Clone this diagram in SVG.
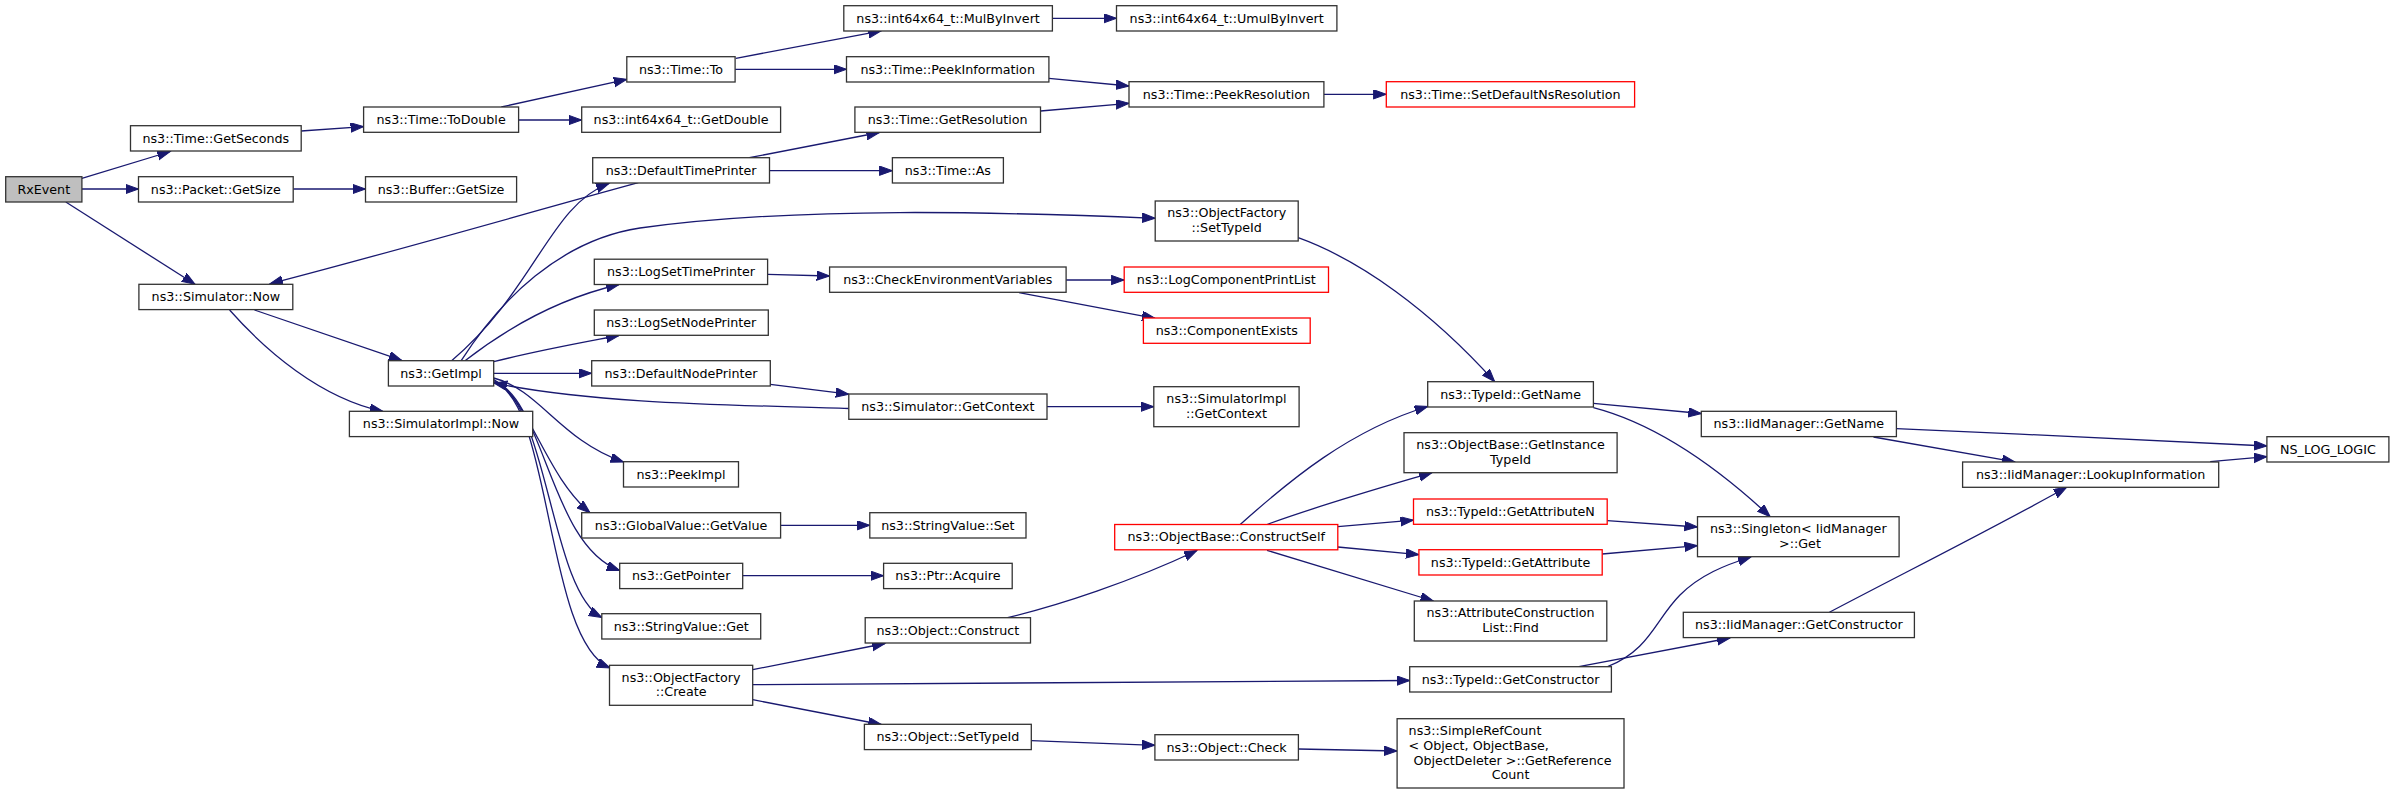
<svg xmlns="http://www.w3.org/2000/svg" width="2395" height="793" viewBox="0 0 2395 793">
<style>
.n rect{fill:#fff;stroke:#333;stroke-width:1.3}
.n.r rect{stroke:#ff0000}
.n.g rect{fill:#bfbfbf}
text{font-family:"DejaVu Sans","Liberation Sans",sans-serif;font-size:12.7px;fill:#000;text-anchor:middle}
text.l{text-anchor:start}
#edges path{fill:none;stroke:#191970;stroke-width:1.3;marker-end:url(#a)}
</style>
<defs>
<marker id="a" markerUnits="userSpaceOnUse" markerWidth="15" markerHeight="11" refX="13" refY="4.7" orient="auto"><path d="M0,0 L13,4.7 L0,9.4 z" fill="#191970" stroke="#191970" stroke-width="1"/></marker>
</defs>
<rect width="2395" height="793" fill="#fff"/>
<g id="edges">
<path d="M81.9,178.3 L170.3,151.5"/>
<path d="M81.9,189 L138.5,189"/>
<path d="M65.8,202 L195,284.3"/>
<path d="M301.2,131 L363.6,126.6"/>
<path d="M293.2,189 L365.5,189"/>
<path d="M501.3,107 L626.8,79.3"/>
<path d="M518.6,120 L581.7,120"/>
<path d="M735.9,58.3 L881.3,30.8"/>
<path d="M735.1,69.3 L846.5,69.3"/>
<path d="M1052.4,18.3 L1116.5,18.3"/>
<path d="M1048.9,78.3 L1129,86"/>
<path d="M1040.5,111 L1129,103.3"/>
<path d="M1323.9,94.3 L1386.3,94.3"/>
<path d="M638.3,182.7 C520,215 400,250 269.8,283.8"/>
<path d="M749.3,157.7 L879.4,132.5"/>
<path d="M769.5,170.7 L892.4,170.7"/>
<path d="M254.5,310 L401.8,360.4"/>
<path d="M229.6,310 C265,350 320,398 382.7,411.3"/>
<path d="M451.6,360.7 C535,290 550,205 609,183.5"/>
<path d="M461.2,360.7 C500,300 560,240 640,228 C800,206 1000,212 1155.2,218.3"/>
<path d="M465,360.7 C520,318 570,296 619,284.5"/>
<path d="M493.7,361.7 C540,350 580,343 619,335.5"/>
<path d="M493.7,373.3 L591.7,373.3"/>
<path d="M848.8,408.5 C750,405 600,405 494,383"/>
<path d="M493.7,378 C540,390 560,440 623.5,462"/>
<path d="M493.7,379.5 C530,400 545,475 590,512.7"/>
<path d="M493.7,380.5 C545,400 550,545 619.7,570.5"/>
<path d="M493.7,381.5 C548,400 550,590 601.8,617.5"/>
<path d="M493.7,382.5 C552,400 545,640 610,668"/>
<path d="M767.6,274.3 L829.6,276"/>
<path d="M1066.1,280 L1124.2,280"/>
<path d="M1019,292.7 L1155,318.3"/>
<path d="M770.3,384.3 L848.8,394.2"/>
<path d="M1047,406.7 L1153.8,406.7"/>
<path d="M1298.2,237.7 C1360,260 1430,310 1494.7,381.7"/>
<path d="M780.6,525.3 L869.8,525.3"/>
<path d="M742.7,575.7 L883.6,575.7"/>
<path d="M752.7,669.7 L885,643.5"/>
<path d="M752.7,684.7 L1409.7,680.5"/>
<path d="M752.7,699.7 L881.3,724.5"/>
<path d="M1007.6,617.7 C1060,605 1130,582 1197,550.5"/>
<path d="M1031.3,740.7 L1154.9,745.3"/>
<path d="M1298.4,749 L1397.1,751"/>
<path d="M1240.2,524.5 C1290,480 1350,430 1427.7,406.5"/>
<path d="M1267,524.5 C1320,505 1380,488 1432,472.7"/>
<path d="M1337.8,526.7 L1413.5,520.2"/>
<path d="M1337.8,547 L1418.9,554.7"/>
<path d="M1267,550.3 L1433.4,601"/>
<path d="M1593.4,403.3 L1701.3,413.5"/>
<path d="M1593.4,407.7 C1660,425 1720,470 1770.2,516.7"/>
<path d="M1607.2,520.7 L1697.5,527"/>
<path d="M1602.2,554 L1697.5,545.7"/>
<path d="M1607.6,666.7 C1650,650 1655,620 1680,595 C1700,575 1725,565 1751,557"/>
<path d="M1578.9,666.7 L1730,638"/>
<path d="M1896.4,428.7 C2020,434 2150,440 2266.9,446"/>
<path d="M1873.5,437 L2015,461.9"/>
<path d="M2210.2,461.7 L2266.9,456.7"/>
<path d="M1829.4,612.3 C1900,575 1990,530 2066.7,487.3"/>
</g>
<g id="n_RxEvent" class="n g"><rect x="5.7" y="176.7" width="76.2" height="25.3"/><text x="43.8" y="193.6">RxEvent</text></g>
<g id="n_GetSeconds" class="n"><rect x="130.5" y="125.7" width="170.7" height="25.3"/><text x="215.85" y="142.6">ns3::Time::GetSeconds</text></g>
<g id="n_PacketGetSize" class="n"><rect x="138.5" y="176.7" width="154.7" height="25.3"/><text x="215.85" y="193.6">ns3::Packet::GetSize</text></g>
<g id="n_SimulatorNow" class="n"><rect x="138.9" y="284.3" width="153.9" height="25.3"/><text x="215.85" y="301.2">ns3::Simulator::Now</text></g>
<g id="n_ToDouble" class="n"><rect x="363.6" y="107" width="155" height="25.3"/><text x="441.1" y="123.9">ns3::Time::ToDouble</text></g>
<g id="n_BufferGetSize" class="n"><rect x="365.5" y="176.7" width="151.1" height="25.3"/><text x="441.05" y="193.6">ns3::Buffer::GetSize</text></g>
<g id="n_GetImpl" class="n"><rect x="388.4" y="360.7" width="105.3" height="25.3"/><text x="441.05" y="377.6">ns3::GetImpl</text></g>
<g id="n_SimulatorImplNow" class="n"><rect x="349.4" y="411.3" width="183.3" height="25.3"/><text x="441.05" y="428.2">ns3::SimulatorImpl::Now</text></g>
<g id="n_GetDouble" class="n"><rect x="581.7" y="107" width="198.9" height="25.3"/><text x="681.15" y="123.9">ns3::int64x64_t::GetDouble</text></g>
<g id="n_TimeTo" class="n"><rect x="626.8" y="56.7" width="108.3" height="25.3"/><text x="681" y="73.6">ns3::Time::To</text></g>
<g id="n_DefaultTimePrinter" class="n"><rect x="592.7" y="157.7" width="176.8" height="25.3"/><text x="681.1" y="174.6">ns3::DefaultTimePrinter</text></g>
<g id="n_LogSetTimePrinter" class="n"><rect x="594.3" y="259.2" width="173.3" height="25.3"/><text x="681" y="276.1">ns3::LogSetTimePrinter</text></g>
<g id="n_LogSetNodePrinter" class="n"><rect x="594.3" y="310" width="174" height="25.3"/><text x="681.3" y="326.9">ns3::LogSetNodePrinter</text></g>
<g id="n_DefaultNodePrinter" class="n"><rect x="591.7" y="360.7" width="178.6" height="25.3"/><text x="681" y="377.6">ns3::DefaultNodePrinter</text></g>
<g id="n_PeekImpl" class="n"><rect x="623.5" y="461.7" width="115" height="25.3"/><text x="681" y="478.6">ns3::PeekImpl</text></g>
<g id="n_GlobalValueGetValue" class="n"><rect x="581.7" y="512.7" width="198.9" height="25.3"/><text x="681.15" y="529.6">ns3::GlobalValue::GetValue</text></g>
<g id="n_GetPointer" class="n"><rect x="619.7" y="563.3" width="123" height="25.3"/><text x="681.2" y="580.2">ns3::GetPointer</text></g>
<g id="n_StringValueGet" class="n"><rect x="601.8" y="613.7" width="158.9" height="25.3"/><text x="681.25" y="630.6">ns3::StringValue::Get</text></g>
<g id="n_ObjectFactoryCreate" class="n"><rect x="609.5" y="665.3" width="143.2" height="40"/><text x="681.1" y="681.6">ns3::ObjectFactory</text><text x="681.1" y="696.3">::Create</text></g>
<g id="n_MulByInvert" class="n"><rect x="843.8" y="5.7" width="208.6" height="25.3"/><text x="948.1" y="22.6">ns3::int64x64_t::MulByInvert</text></g>
<g id="n_PeekInformation" class="n"><rect x="846.5" y="56.7" width="202.4" height="25.3"/><text x="947.7" y="73.6">ns3::Time::PeekInformation</text></g>
<g id="n_GetResolution" class="n"><rect x="854.9" y="107" width="185.6" height="25.3"/><text x="947.7" y="123.9">ns3::Time::GetResolution</text></g>
<g id="n_TimeAs" class="n"><rect x="892.4" y="157.7" width="111" height="25.3"/><text x="947.9" y="174.6">ns3::Time::As</text></g>
<g id="n_CheckEnvironmentVariables" class="n"><rect x="829.6" y="267" width="236.5" height="25.3"/><text x="947.85" y="283.9">ns3::CheckEnvironmentVariables</text></g>
<g id="n_SimulatorGetContext" class="n"><rect x="848.8" y="394" width="198.2" height="25.3"/><text x="947.9" y="410.9">ns3::Simulator::GetContext</text></g>
<g id="n_StringValueSet" class="n"><rect x="869.8" y="512.7" width="156.2" height="25.3"/><text x="947.9" y="529.6">ns3::StringValue::Set</text></g>
<g id="n_PtrAcquire" class="n"><rect x="883.6" y="563.3" width="128.6" height="25.3"/><text x="947.9" y="580.2">ns3::Ptr::Acquire</text></g>
<g id="n_ObjectConstruct" class="n"><rect x="865.2" y="617.7" width="165.3" height="25.3"/><text x="947.85" y="634.6">ns3::Object::Construct</text></g>
<g id="n_ObjectSetTypeId" class="n"><rect x="864.4" y="724.3" width="166.9" height="25.3"/><text x="947.85" y="741.2">ns3::Object::SetTypeId</text></g>
<g id="n_UmulByInvert" class="n"><rect x="1116.5" y="5.7" width="220.4" height="25.3"/><text x="1226.7" y="22.6">ns3::int64x64_t::UmulByInvert</text></g>
<g id="n_PeekResolution" class="n"><rect x="1129" y="81.7" width="194.9" height="25.3"/><text x="1226.45" y="98.6">ns3::Time::PeekResolution</text></g>
<g id="n_ObjectFactorySetTypeId" class="n"><rect x="1155.2" y="201" width="143" height="40"/><text x="1226.7" y="217.3">ns3::ObjectFactory</text><text x="1226.7" y="232">::SetTypeId</text></g>
<g id="n_LogComponentPrintList" class="n r"><rect x="1124.2" y="267" width="204.3" height="25.3"/><text x="1226.35" y="283.9">ns3::LogComponentPrintList</text></g>
<g id="n_ComponentExists" class="n r"><rect x="1143.4" y="318" width="166.8" height="25.3"/><text x="1226.8" y="334.9">ns3::ComponentExists</text></g>
<g id="n_SimulatorImplGetContext" class="n"><rect x="1153.8" y="386.7" width="145.3" height="40"/><text x="1226.45" y="403">ns3::SimulatorImpl</text><text x="1226.45" y="417.7">::GetContext</text></g>
<g id="n_ConstructSelf" class="n r"><rect x="1114.7" y="524.5" width="223.1" height="25.3"/><text x="1226.25" y="541.4">ns3::ObjectBase::ConstructSelf</text></g>
<g id="n_ObjectCheck" class="n"><rect x="1154.9" y="734.7" width="143.5" height="25.3"/><text x="1226.65" y="751.6">ns3::Object::Check</text></g>
<g id="n_SetDefaultNsResolution" class="n r"><rect x="1386.3" y="81.7" width="248.3" height="25.3"/><text x="1510.45" y="98.6">ns3::Time::SetDefaultNsResolution</text></g>
<g id="n_TypeIdGetName" class="n"><rect x="1427.7" y="381.7" width="165.7" height="25.3"/><text x="1510.55" y="398.6">ns3::TypeId::GetName</text></g>
<g id="n_GetInstanceTypeId" class="n"><rect x="1404" y="432.7" width="213.1" height="40"/><text x="1510.55" y="449">ns3::ObjectBase::GetInstance</text><text x="1510.55" y="463.7">TypeId</text></g>
<g id="n_GetAttributeN" class="n r"><rect x="1413.5" y="499" width="193.7" height="25.3"/><text x="1510.35" y="515.9">ns3::TypeId::GetAttributeN</text></g>
<g id="n_GetAttribute" class="n r"><rect x="1418.9" y="549.7" width="183.3" height="25.3"/><text x="1510.55" y="566.6">ns3::TypeId::GetAttribute</text></g>
<g id="n_AttributeConstructionListFind" class="n"><rect x="1414.3" y="601" width="192.5" height="40"/><text x="1510.55" y="617.3">ns3::AttributeConstruction</text><text x="1510.55" y="632">List::Find</text></g>
<g id="n_TypeIdGetConstructor" class="n"><rect x="1409.7" y="666.7" width="201.7" height="25.3"/><text x="1510.55" y="683.6">ns3::TypeId::GetConstructor</text></g>
<g id="n_SimpleRefCount" class="n"><rect x="1397.1" y="718.7" width="226.9" height="69.3"/><text class="l" x="1408.6" y="735.3">ns3::SimpleRefCount</text><text class="l" x="1408.6" y="750">&lt; Object, ObjectBase,</text><text x="1512.5" y="764.7">ObjectDeleter &gt;::GetReference</text><text x="1510.55" y="779.4">Count</text></g>
<g id="n_IidManagerGetName" class="n"><rect x="1701.3" y="411.3" width="195.1" height="25.3"/><text x="1798.85" y="428.2">ns3::IidManager::GetName</text></g>
<g id="n_SingletonGet" class="n"><rect x="1697.5" y="516.7" width="201.6" height="40"/><text x="1798.3" y="533">ns3::Singleton&lt; IidManager</text><text x="1800" y="547.7">&gt;::Get</text></g>
<g id="n_IidManagerGetConstructor" class="n"><rect x="1683.3" y="612.3" width="231.1" height="25.3"/><text x="1798.85" y="629.2">ns3::IidManager::GetConstructor</text></g>
<g id="n_LookupInformation" class="n"><rect x="1962.6" y="462" width="256.1" height="25.3"/><text x="2090.65" y="478.9">ns3::IidManager::LookupInformation</text></g>
<g id="n_NS_LOG_LOGIC" class="n"><rect x="2266.9" y="436.7" width="122" height="25.3"/><text x="2327.9" y="453.6">NS_LOG_LOGIC</text></g>
</svg>
